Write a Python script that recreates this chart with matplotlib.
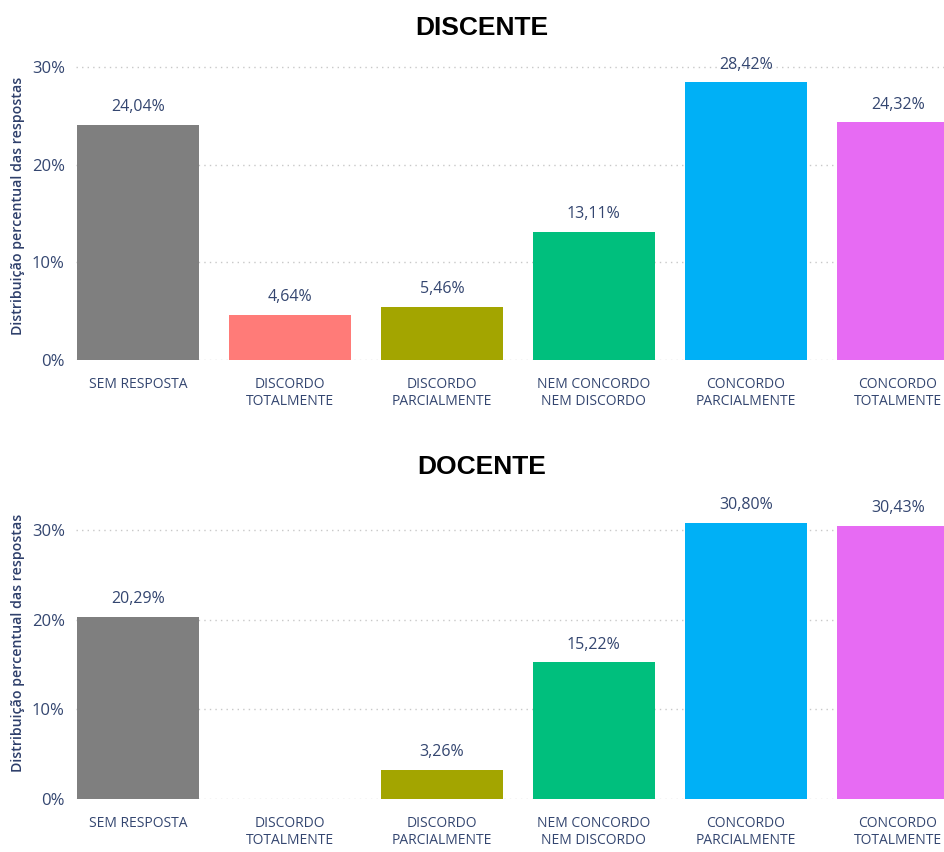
import matplotlib.pyplot as plt

plt.rcParams['font.family'] = ['Open Sans', 'DejaVu Sans']

categorias = ['SEM RESPOSTA', 'DISCORDO\nTOTALMENTE', 'DISCORDO\nPARCIALMENTE',
              'NEM CONCORDO\nNEM DISCORDO', 'CONCORDO\nPARCIALMENTE', 'CONCORDO\nTOTALMENTE']
discente = [24.04, 4.64, 5.46, 13.11, 28.42, 24.32]
docente = [20.29, 0.0, 3.26, 15.22, 30.80, 30.43]
cores = ['#7F7F7F', '#FF7B78', '#A3A500', '#00BF7D', '#00B0F6', '#E76BF3']
yticks = [0, 10, 20, 30]

TEXTO = '#344670'


def desenha_painel(ax, valores, ytop, label_y):
    x = range(len(categorias))
    ax.bar(x, valores, width=0.8, color=cores, zorder=2)
    for xi, v in zip(x, valores):
        if v > 0:
            ax.annotate(f'{v:.2f}%'.replace('.', ','), (xi, v),
                        textcoords='offset points', xytext=(0, 7),
                        ha='center', va='bottom', fontsize=11.5,
                        color=TEXTO, annotation_clip=False)
    ax.set_xlim(-0.407, 5.304)
    ax.set_ylim(0, ytop)
    ax.set_yticks(yticks)
    ax.set_yticklabels([f'{t}%' for t in yticks])
    ax.set_xticks(list(x))
    ax.set_xticklabels(categorias, fontsize=10, color=TEXTO)
    ax.tick_params(axis='x', length=0, pad=12)
    ax.tick_params(axis='y', length=0, pad=8, labelsize=12, labelcolor=TEXTO)
    ax.grid(axis='y', color='#C8C8C8', linestyle=(0, (1, 3)), linewidth=1, zorder=0)
    for s in ax.spines.values():
        s.set_visible(False)
    ax.set_ylabel('Distribuição percentual das respostas', fontsize=10.2,
                  color='#2E3F6B', fontweight='semibold')
    ax.yaxis.set_label_coords(-0.059, label_y)


fig = plt.figure(figsize=(9.44, 8.52), dpi=100)

# painel superior: discentes
ax1 = fig.add_axes([0.0805, 0.5775, 0.9195, 0.3555])
desenha_painel(ax1, discente, 31, 0.508)
fig.text(0.51, 0.967, 'DISCENTE', ha='center', va='center', fontsize=19,
         fontweight='bold', family='Liberation Sans', color='black')

# painel inferior: docentes
ax2 = fig.add_axes([0.0805, 0.0622, 0.9195, 0.3369])
desenha_painel(ax2, docente, 32, 0.544)
fig.text(0.51, 0.452, 'DOCENTE', ha='center', va='center', fontsize=19,
         fontweight='bold', family='Liberation Sans', color='black')

fig.savefig('out.png', dpi=100)
